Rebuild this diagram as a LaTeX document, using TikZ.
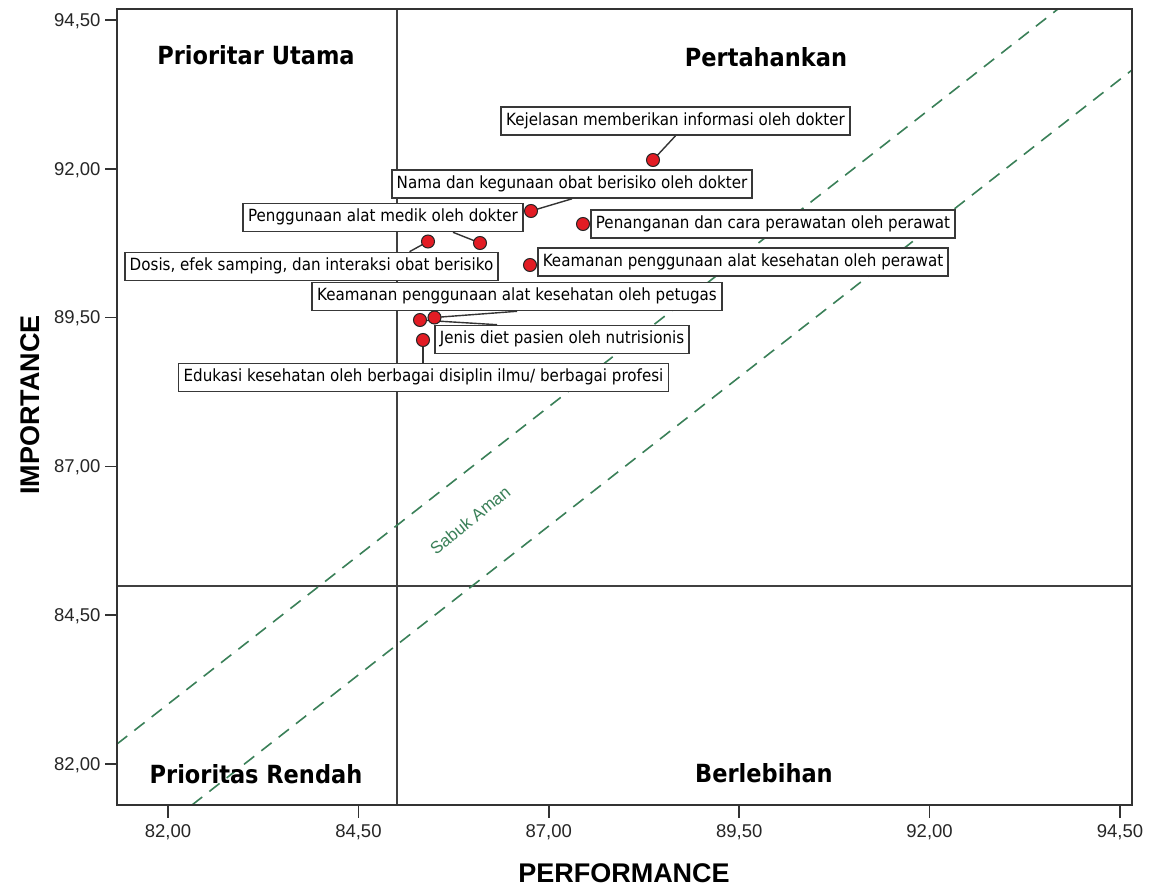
\documentclass[tikz,border=0pt]{standalone}
\usepackage{fontspec}
\setmainfont{Liberation Sans}
\newfontfamily\labfont[FakeStretch=0.9]{DejaVu Sans}
\definecolor{ptred}{RGB}{226,28,36}
\definecolor{belt}{RGB}{58,128,88}
\begin{document}
\begin{tikzpicture}[x=1bp,y=-1bp,
  lbl/.style={draw=black!78, line width=1.6bp, fill=white, inner xsep=5bp, inner ysep=0bp,
    text height=12bp, text depth=3.5bp, minimum height=28bp,
    font=\labfont\fontsize{16.8bp}{18bp}\selectfont},
  pt/.style={circle, draw=black!85, fill=ptred, inner sep=0bp, minimum size=13bp, line width=1bp},
  lead/.style={draw=black!80, line width=1.4bp},
  quad/.style={font=\labfont\bfseries\fontsize{25bp}{28bp}\selectfont},
  tickl/.style={font=\fontsize{18.5bp}{20bp}\selectfont, text=black!85},
  axt/.style={font=\bfseries\fontsize{27bp}{30bp}\selectfont},
  frame/.style={draw=black!80, line width=1.8bp},
  qline/.style={draw=black!75, line width=2bp},
  beltline/.style={draw=belt, line width=1.6bp, dash pattern=on 13bp off 9bp}
]
\useasboundingbox (0,0) rectangle (1154,891);
\fill[white] (0,0) rectangle (1154,891);

% quadrant lines
\draw[qline] (397,9) -- (397,805);
\draw[qline] (117,586) -- (1132,586);

% safety belt
\draw[beltline] (117,744) -- (1058,9);
\draw[beltline] (192,805) -- (1132,70);
\node[rotate=39, text=belt, inner sep=0bp, font=\fontsize{17bp}{18bp}\selectfont] (sabuk) at (470,520) {Sabuk Aman};

% frame
\draw[frame] (117,9) rectangle (1132,805);

% y ticks
\foreach \yy/\t in {20/{94,50},168.8/{92,00},317.6/{89,50},466.4/{87,00},615.2/{84,50},764/{82,00}}{
  \draw[black!80, line width=1.6bp] (105,\yy) -- (117,\yy);
  \node[tickl, anchor=east] at (104,\yy+1) {\t};
}
% x ticks
\foreach \xx/\t in {168/{82,00},358.4/{84,50},548.8/{87,00},739.2/{89,50},929.6/{92,00},1120/{94,50}}{
  \draw[black!80, line width=1.6bp] (\xx,805) -- (\xx,818);
  \node[tickl] at (\xx,832) {\t};
}

% axis titles
\node[axt] (xt) at (624,873) {PERFORMANCE};
\node[axt, rotate=90] (yt) at (30,405) {IMPORTANCE};

% quadrant titles
\node[quad] (q1) at (256,55) {Prioritar Utama};
\node[quad] (q2) at (766,57) {Pertahankan};
\node[quad] (q3) at (256,774) {Prioritas Rendah};
\node[quad] (q4) at (764,773) {Berlebihan};

% labels
\node[lbl] (kej) at (675.5,121) {Kejelasan memberikan informasi oleh dokter};
\node[lbl] (nama) at (572,184) {Nama dan kegunaan obat berisiko oleh dokter};
\node[lbl] (pena) at (773,224) {Penanganan dan cara perawatan oleh perawat};
\node[lbl] (kper) at (743,262) {Keamanan penggunaan alat kesehatan oleh perawat};
\node[lbl] (peng) at (383,217.5) {Penggunaan alat medik oleh dokter};
\node[lbl] (dosis) at (311.5,266.5) {Dosis, efek samping, dan interaksi obat berisiko};
\node[lbl] (kpet) at (517,296.5) {Keamanan penggunaan alat kesehatan oleh petugas};
\node[lbl] (jenis) at (562,339.5) {Jenis diet pasien oleh nutrisionis};
\node[lbl] (edu) at (423.5,377.5) {Edukasi kesehatan oleh berbagai disiplin ilmu/ berbagai profesi};

% points
\coordinate (c1) at (653,160);
\coordinate (c2) at (531,211);
\coordinate (c3) at (583,224);
\coordinate (c4) at (530,265);
\coordinate (c5) at (480,243);
\coordinate (c6) at (428,241.5);
\coordinate (c7) at (434.5,317.5);
\coordinate (c8) at (420,320);
\coordinate (c9) at (423,340);

% leaders
\draw[lead] (c1) -- (kej.south);
\draw[lead] (c2) -- (nama.south);
\draw[lead] (c5) -- ([xshift=70bp]peng.south);
\draw[lead] (c6) -- ([xshift=98bp]dosis.north);
\draw[lead] (c7) -- (kpet.south);
\draw[lead] (c8) -- ([xshift=-65bp]jenis.north);
\draw[lead] (c9) -- (edu.north -| c9);

\node[pt] (p1) at (c1) {};
\node[pt] (p2) at (c2) {};
\node[pt] (p3) at (c3) {};
\node[pt] (p4) at (c4) {};
\node[pt] (p5) at (c5) {};
\node[pt] (p6) at (c6) {};
\node[pt] (p8) at (c8) {};
\node[pt] (p7) at (c7) {};
\node[pt] (p9) at (c9) {};
\end{tikzpicture}
\end{document}
